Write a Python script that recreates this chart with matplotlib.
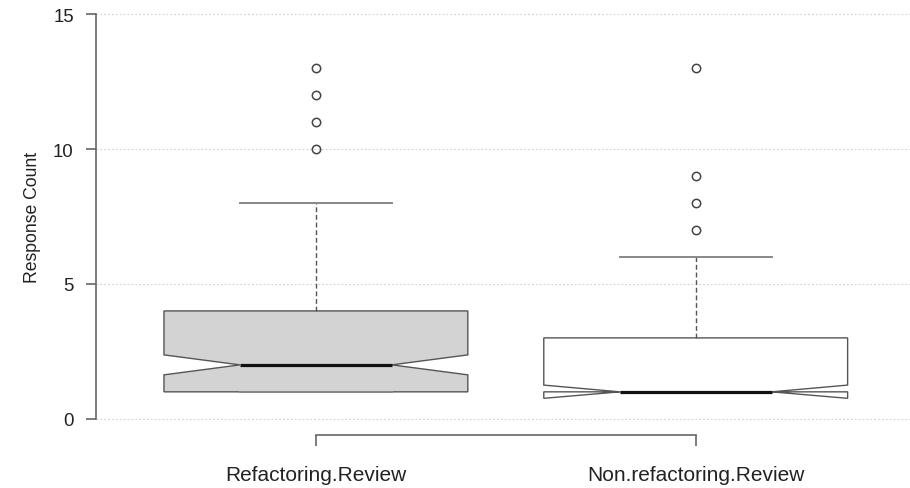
import matplotlib
matplotlib.use("Agg")
import matplotlib.pyplot as plt

# ---- data ----
categories = ["Refactoring.Review", "Non.refactoring.Review"]
q1 = [1, 1]
medians = [2, 1]
q3 = [4, 3]
whisker_low = [1, 1]
whisker_high = [8, 6]
notch_low = [1.63, 0.76]
notch_high = [2.37, 1.25]
outliers = [[10, 11, 12, 13], [7, 8, 9, 13]]
fills = ["#d3d3d3", "#ffffff"]
y_ticks = [0, 5, 10, 15]

plt.rcParams['font.family'] = ['Liberation Sans', 'DejaVu Sans']

fig = plt.figure(figsize=(9.1, 4.89), dpi=100)
W, H = 910, 489
left_px, right_px, top_px, bot_px = 95.6, 916, -1, 436
ax = fig.add_axes([left_px / W, 1 - bot_px / H, (right_px - left_px) / W, (bot_px - top_px) / H])

stats = []
for i in range(len(categories)):
    stats.append(dict(med=medians[i], q1=q1[i], q3=q3[i], whislo=whisker_low[i],
                      whishi=whisker_high[i], cilo=notch_low[i], cihi=notch_high[i],
                      fliers=outliers[i], label=categories[i]))

edge = "#555555"
res = ax.bxp(stats, positions=[1, 2], widths=0.8, shownotches=True, patch_artist=True,
             boxprops=dict(edgecolor=edge, linewidth=1.0),
             whiskerprops=dict(color=edge, linewidth=1.0, linestyle=(0, (3.5, 2))),
             capprops=dict(color="#888888", linewidth=1.4),
             medianprops=dict(color="#111111", linewidth=2.3, solid_capstyle='butt'),
             flierprops=dict(marker='o', markersize=6, markerfacecolor='none',
                             markeredgecolor='#444444', markeredgewidth=1.1),
             capwidths=0.4, zorder=3)
for patch, fc in zip(res['boxes'], fills):
    patch.set_facecolor(fc)

ax.set_xlim(0.42, 2.58)
ax.set_ylim(-0.6, 15.6)

ax.set_yticks(y_ticks)
ax.set_yticklabels([str(v) for v in y_ticks])
ax.set_xticks([1, 2])
ax.set_xticklabels(categories)

for s in ['top', 'right']:
    ax.spines[s].set_visible(False)
ax.spines['left'].set_bounds(0, 15)
ax.spines['bottom'].set_bounds(1, 2)
for s in ['left', 'bottom']:
    ax.spines[s].set_color('#666666')
    ax.spines[s].set_linewidth(1.2)

ax.tick_params(axis='y', direction='out', length=7.2, width=1.2, color='#666666',
               labelsize=13.4, pad=8.5, labelcolor='#222222')
ax.tick_params(axis='x', direction='out', length=8, width=1.2, color='#666666',
               labelsize=15, pad=13.5, labelcolor='#222222')

ax.yaxis.grid(True, linestyle=(0, (1.5, 2)), color='#d0d0d0', linewidth=0.8)
ax.set_axisbelow(True)

ax.set_ylabel("Response Count", fontsize=12.7, color='#222222', labelpad=8.5)

fig.savefig("out.png", dpi=100)
